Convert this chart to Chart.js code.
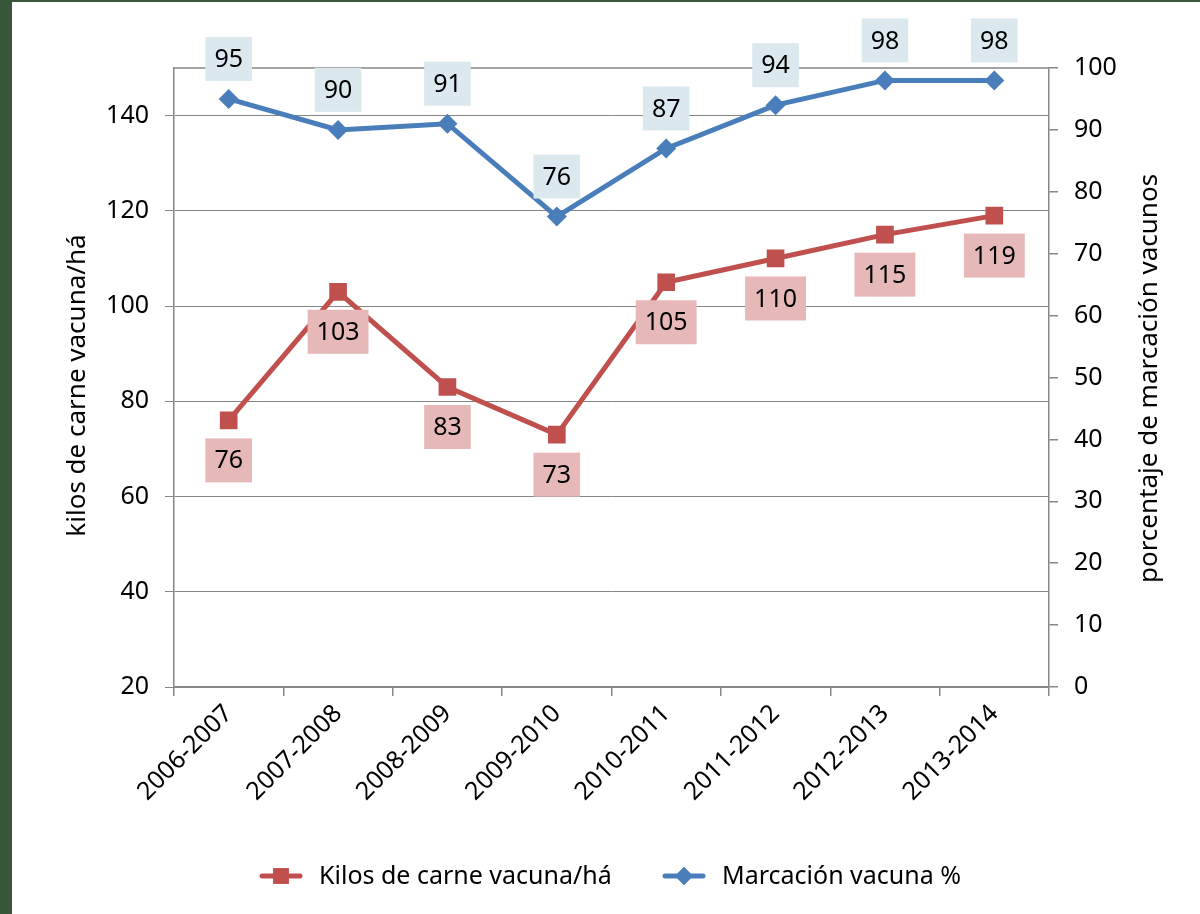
<!DOCTYPE html>
<html>
<head>
<meta charset="utf-8">
<script src="https://cdn.jsdelivr.net/npm/chart.js@4"></script>
<style>
  html, body { margin: 0; padding: 0; background: #395638; }
  #wrap { position: absolute; left: 12px; top: 2px; width: 1188px; height: 912px; background: #fff; }
</style>
</head>
<body>
<div id="wrap"><canvas id="chart" width="1188" height="912"></canvas></div>
<script>
// ==========================
// Data
// ==========================
const seasons = ['2006-2007', '2007-2008', '2008-2009', '2009-2010', '2010-2011', '2011-2012', '2012-2013', '2013-2014'];
const kilosPorHa = [76, 103, 83, 73, 105, 110, 115, 119];
const marcacionPct = [95, 90, 91, 76, 87, 94, 98, 98];
const leftTicks = [20, 40, 60, 80, 100, 120, 140];
const rightTicks = [0, 10, 20, 30, 40, 50, 60, 70, 80, 90, 100];

const FONT = "'Noto Sans', sans-serif";
const AXIS_GREY = '#868686';
const RED = '#c0504d';
const BLUE = '#4a7ebb';

// ==========================
// Plugin: labels, titles, legend, top border
// ==========================
const extrasPlugin = {
  id: 'extras',
  beforeDatasetsDraw(chart) {
    const { ctx, chartArea } = chart;
    ctx.save();
    ctx.strokeStyle = AXIS_GREY;
    ctx.lineWidth = 1.5;
    ctx.beginPath();
    ctx.moveTo(chartArea.left, chartArea.top);
    ctx.lineTo(chartArea.right, chartArea.top);
    ctx.stroke();
    ctx.restore();
  },
  afterDatasetsDraw(chart) {
    const ctx = chart.ctx;
    ctx.save();
    ctx.font = '25px ' + FONT;
    ctx.textAlign = 'center';
    ctx.textBaseline = 'middle';
    chart.data.datasets.forEach((ds, i) => {
      const meta = chart.getDatasetMeta(i);
      meta.data.forEach((pt, j) => {
        const text = String(ds.data[j]);
        const w = ctx.measureText(text).width + 18;
        const h = 44;
        const cy = pt.y + (ds.labelBelow ? 40 : -40);
        ctx.fillStyle = ds.labelBg;
        ctx.fillRect(pt.x - w / 2, cy - h / 2, w, h);
        ctx.fillStyle = '#000';
        ctx.fillText(text, pt.x, cy + 1);
      });
    });
    ctx.restore();
  },
  afterDraw(chart) {
    const { ctx, chartArea } = chart;
    const midY = (chartArea.top + chartArea.bottom) / 2;
    ctx.save();
    ctx.fillStyle = '#000';
    ctx.font = '26px ' + FONT;
    ctx.textAlign = 'center';
    ctx.textBaseline = 'middle';

    // axis titles (both read bottom to top)
    ctx.save();
    ctx.translate(66, midY + 8);
    ctx.rotate(-Math.PI / 2);
    ctx.fillText('kilos de carne vacuna/há', 0, 0);
    ctx.restore();

    ctx.save();
    ctx.translate(1138, midY + 1);
    ctx.rotate(-Math.PI / 2);
    ctx.fillText('porcentaje de marcación vacunos', 0, 0);
    ctx.restore();

    // legend
    ctx.font = '25px ' + FONT;
    const ly = 874;
    const items = [
      { x: 250, color: RED, style: 'rect', r: 11, text: 'Kilos de carne vacuna/há' },
      { x: 653, color: BLUE, style: 'rectRot', r: 9, text: 'Marcación vacuna %' }
    ];
    ctx.textAlign = 'left';
    items.forEach(it => {
      ctx.strokeStyle = it.color;
      ctx.lineWidth = 5;
      ctx.lineCap = 'round';
      ctx.beginPath();
      ctx.moveTo(it.x, ly);
      ctx.lineTo(it.x + 38, ly);
      ctx.stroke();
      ctx.fillStyle = it.color;
      Chart.helpers.drawPoint(ctx, { pointStyle: it.style, radius: it.r, borderWidth: 0 }, it.x + 19, ly);
      ctx.fill();
      ctx.fillStyle = '#000';
      ctx.fillText(it.text, it.x + 57, ly + 1);
    });
    ctx.restore();
  }
};

// ==========================
// Chart
// ==========================
const ctx = document.getElementById('chart').getContext('2d');
new Chart(ctx, {
  type: 'line',
  data: {
    labels: seasons,
    datasets: [
      {
        label: 'Kilos de carne vacuna/há',
        data: kilosPorHa,
        yAxisID: 'y',
        borderColor: RED,
        backgroundColor: RED,
        borderWidth: 5,
        pointStyle: 'rect',
        pointRadius: 12.5,
        pointBorderWidth: 0,
        labelBg: '#e6b9b8',
        labelBelow: true
      },
      {
        label: 'Marcación vacuna %',
        data: marcacionPct,
        yAxisID: 'y1',
        borderColor: BLUE,
        backgroundColor: BLUE,
        borderWidth: 5,
        pointStyle: 'rectRot',
        pointRadius: 10,
        pointBorderWidth: 0,
        labelBg: '#dbe9ef',
        labelBelow: false
      }
    ]
  },
  options: {
    responsive: false,
    animation: false,
    layout: { padding: { top: 66, left: 0, right: 0, bottom: 0 } },
    plugins: {
      legend: { display: false },
      tooltip: { enabled: false }
    },
    scales: {
      x: {
        offset: true,
        grid: { offset: true, drawOnChartArea: false, color: AXIS_GREY, tickLength: 9, lineWidth: 1.5 },
        border: { color: AXIS_GREY, width: 1.5 },
        ticks: { color: '#000', font: { family: FONT, size: 25 }, minRotation: 45, maxRotation: 45, padding: 3 },
        afterFit(scale) { scale.height = 227; }
      },
      y: {
        position: 'left',
        min: 20,
        max: 150,
        afterBuildTicks(scale) { scale.ticks = leftTicks.map(v => ({ value: v })); },
        grid: { color: AXIS_GREY, tickLength: 9, lineWidth: 1 },
        border: { color: AXIS_GREY, width: 1.5 },
        ticks: { color: '#000', font: { family: FONT, size: 25 }, padding: 16 },
        afterFit(scale) { scale.width = 162; }
      },
      y1: {
        position: 'right',
        min: 0,
        max: 100,
        afterBuildTicks(scale) { scale.ticks = rightTicks.map(v => ({ value: v })); },
        grid: { drawOnChartArea: false, color: AXIS_GREY, tickLength: 9, lineWidth: 1.5 },
        border: { color: AXIS_GREY, width: 1.5 },
        ticks: { color: '#000', font: { family: FONT, size: 25 }, padding: 16 },
        afterFit(scale) { scale.width = 151; }
      }
    }
  },
  plugins: [extrasPlugin]
});
</script>
</body>
</html>
